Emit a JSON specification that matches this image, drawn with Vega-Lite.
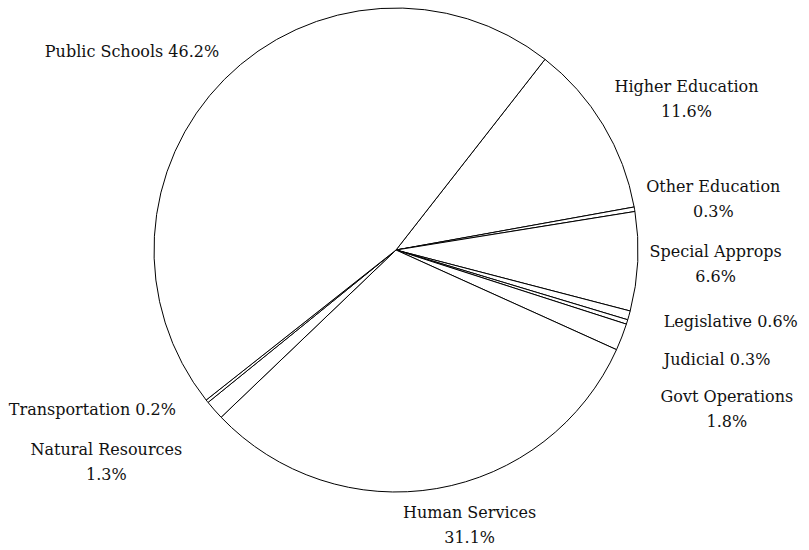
{
  "$schema": "https://vega.github.io/schema/vega-lite/v6.json",
  "width": 792,
  "height": 500,
  "autosize": "none",
  "padding": {"left": 0, "top": 0, "right": 17, "bottom": 50},
  "background": "white",
  "data": {
    "values": [
      {"category": "Higher Education", "value": 11.6},
      {"category": "Other Education", "value": 0.3},
      {"category": "Special Approps", "value": 6.6},
      {"category": "Legislative", "value": 0.6},
      {"category": "Judicial", "value": 0.3},
      {"category": "Govt Operations", "value": 1.8},
      {"category": "Human Services", "value": 31.1},
      {"category": "Natural Resources", "value": 1.3},
      {"category": "Transportation", "value": 0.2},
      {"category": "Public Schools", "value": 46.2}
    ]
  },
  "transform": [{"window": [{"op": "row_number", "as": "idx"}]}],
  "encoding": {
    "theta": {"field": "value", "type": "quantitative", "stack": true, "scale": {"range": [0.6632, 6.9464]}},
    "order": {"field": "idx", "type": "quantitative"}
  },
  "layer": [
    {
      "mark": {"type": "arc", "outerRadius": 242, "fill": "white", "stroke": "black", "strokeWidth": 1}
    },
    {
      "transform": [
        {"calculate": "indexof(['Public Schools','Legislative','Judicial','Transportation'], datum.category) >= 0 ? datum.category + ' ' + format(datum.value, '.1f') + '%' : datum.category + '\\n' + format(datum.value, '.1f') + '%'", "as": "label"}
      ],
      "mark": {
        "type": "text",
        "radius": 330,
        "font": "DejaVu Serif",
        "fontSize": 16,
        "color": "#111111",
        "lineBreak": "\n",
        "lineHeight": 25,
        "align": "center",
        "baseline": "middle",
        "dx": {"expr": "[8, -8, -10, 17, 6, 23, 18, -42, -46, -30][datum.idx - 1]"},
        "dy": {"expr": "[8, -7, -14, -17, 12, 28, -62, -18, -46, 35][datum.idx - 1]"}
      },
      "encoding": {"text": {"field": "label", "type": "nominal"}}
    }
  ],
  "config": {"view": {"stroke": null}}
}
